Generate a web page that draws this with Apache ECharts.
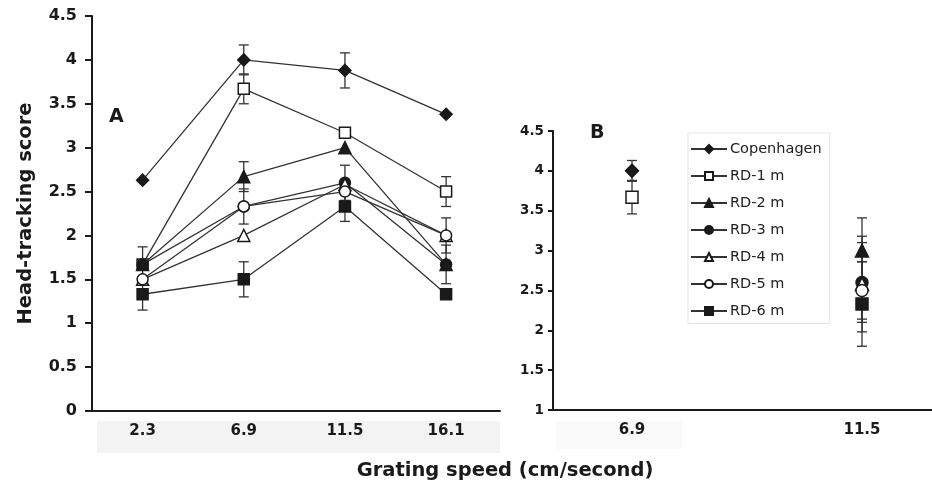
<!DOCTYPE html>
<html>
<head>
<meta charset="utf-8">
<script src="https://cdn.jsdelivr.net/npm/echarts@6/dist/echarts.min.js"></script>
<style>
  html, body { margin: 0; padding: 0; background: #fff; }
  #chart { width: 932px; height: 487px; }
</style>
</head>
<body>
<div id="chart"></div>
<script>
// grating speeds (cm/second)
const speedsA = [2.3, 6.9, 11.5, 16.1];
const speedsB = [6.9, 11.5];
const names = ['Copenhagen', 'RD-1 m', 'RD-2 m', 'RD-3 m', 'RD-4 m', 'RD-5 m', 'RD-6 m'];

// panel A means, one per speed
const copenhagenA = [2.63, 4.0, 3.88, 3.38];
const rd1A = [1.67, 3.67, 3.17, 2.5];
const rd2A = [1.67, 2.67, 3.0, 1.67];
const rd3A = [1.67, 2.33, 2.6, 1.67];
const rd4A = [1.5, 2.0, 2.58, 2.0];
const rd5A = [1.5, 2.33, 2.5, 2.0];
const rd6A = [1.33, 1.5, 2.33, 1.33];

// panel A error (+/-), 0 = no bar
const copenhagenErrA = [0, 0.17, 0.2, 0];
const rd1ErrA = [0, 0.17, 0, 0.17];
const rd2ErrA = [0, 0.17, 0, 0.22];
const rd3ErrA = [0.2, 0, 0.2, 0];
const rd4ErrA = [0, 0, 0, 0];
const rd5ErrA = [0, 0.2, 0, 0.2];
const rd6ErrA = [0.18, 0.2, 0.17, 0];

// panel B means at 6.9 and 11.5
const copenhagenB = [4.0, null];
const rd1B = [3.67, null];
const rd2B = [null, 3.0];
const rd3B = [null, 2.6];
const rd4B = [null, 2.58];
const rd5B = [null, 2.5];
const rd6B = [null, 2.33];

const copenhagenErrB = [0.13, 0];
const rd1ErrB = [0.21, 0];
const rd2ErrB = [0, 0.41];
const rd3ErrB = [0, 0.5];
const rd4ErrB = [0, 0.6];
const rd5ErrB = [0, 0.36];
const rd6ErrB = [0, 0.53];

const yTicksA = [0, 4.5, 0.5];
const yTicksB = [1, 4.5, 0.5];

var chart = echarts.init(document.getElementById('chart'));

const ink = '#1a1a1a';
const font = 'DejaVu Sans, sans-serif';
// marker look per series
const marks = [
  { symbol: 'diamond', size: 12, fill: ink },
  { symbol: 'rect', size: 11, fill: '#fff' },
  { symbol: 'triangle', size: 12, fill: ink },
  { symbol: 'circle', size: 11, fill: ink },
  { symbol: 'triangle', size: 12, fill: '#fff' },
  { symbol: 'circle', size: 11, fill: '#fff' },
  { symbol: 'rect', size: 11, fill: ink }
];
const valsA = [copenhagenA, rd1A, rd2A, rd3A, rd4A, rd5A, rd6A];
const errsA = [copenhagenErrA, rd1ErrA, rd2ErrA, rd3ErrA, rd4ErrA, rd5ErrA, rd6ErrA];
const valsB = [copenhagenB, rd1B, rd2B, rd3B, rd4B, rd5B, rd6B];
const errsB = [copenhagenErrB, rd1ErrB, rd2ErrB, rd3ErrB, rd4ErrB, rd5ErrB, rd6ErrB];

function errorData(xs, vals, errs) {
  let out = [];
  vals.forEach(function (v, i) {
    v.forEach(function (y, j) {
      if (y != null && errs[i][j] > 0) out.push([xs[j], y, errs[i][j]]);
    });
  });
  return out;
}

function renderErr(params, api) {
  const x = api.value(0), y = api.value(1), e = api.value(2);
  const hi = api.coord([x, y + e]);
  const lo = api.coord([x, y - e]);
  const w = 5;
  const st = { stroke: '#333', lineWidth: 1.3 };
  return {
    type: 'group',
    children: [
      { type: 'line', shape: { x1: hi[0], y1: hi[1], x2: lo[0], y2: lo[1] }, style: st },
      { type: 'line', shape: { x1: hi[0] - w, y1: hi[1], x2: hi[0] + w, y2: hi[1] }, style: st },
      { type: 'line', shape: { x1: lo[0] - w, y1: lo[1], x2: lo[0] + w, y2: lo[1] }, style: st }
    ]
  };
}

let series = [];
names.forEach(function (n, i) {
  const m = marks[i];
  series.push({
    name: n,
    type: 'line',
    xAxisIndex: 0,
    yAxisIndex: 0,
    z: 3,
    symbol: m.symbol,
    symbolSize: m.size,
    showAllSymbol: true,
    lineStyle: { color: '#333', width: 1.3 },
    itemStyle: { color: m.fill, borderColor: ink, borderWidth: 1.5, opacity: 1 },
    data: speedsA.map(function (s, j) { return [s, valsA[i][j]]; })
  });
});
names.forEach(function (n, i) {
  const m = marks[i];
  series.push({
    name: n,
    type: 'scatter',
    xAxisIndex: 1,
    yAxisIndex: 1,
    z: 3,
    symbol: m.symbol,
    symbolSize: m.size + 1,
    itemStyle: { color: m.fill, borderColor: ink, borderWidth: 1.5, opacity: 1 },
    data: speedsB.map(function (s, j) { return [s, valsB[i][j]]; }).filter(function (d) { return d[1] != null; })
  });
});
series.push({
  type: 'custom', xAxisIndex: 0, yAxisIndex: 0, z: 2, silent: true,
  renderItem: renderErr, data: errorData(speedsA, valsA, errsA)
});
series.push({
  type: 'custom', xAxisIndex: 1, yAxisIndex: 1, z: 2, silent: true,
  renderItem: renderErr, data: errorData(speedsB, valsB, errsB)
});

const axisLine = { show: true, onZero: false, lineStyle: { color: ink, width: 2 } };

const option = {
  backgroundColor: '#fff',
  animation: false,
  grid: [
    { left: 92, top: 16, width: 408, bottom: 76 },
    { left: 553, top: 131, right: 0, bottom: 77 }
  ],
  xAxis: [
    {
      type: 'value', gridIndex: 0, min: 0, max: 18.55,
      axisLine: axisLine, splitLine: { show: false }, axisTick: { show: false },
      axisLabel: {
        customValues: speedsA, margin: 13,
        color: ink, fontFamily: font, fontWeight: 'bold', fontSize: 15,
        formatter: function (v) { return v.toFixed(1); }
      }
    },
    {
      type: 'value', gridIndex: 1, min: 5.32, max: 12.9,
      axisLine: axisLine, splitLine: { show: false }, axisTick: { show: false },
      axisLabel: {
        customValues: speedsB, margin: 13,
        color: ink, fontFamily: font, fontWeight: 'bold', fontSize: 15,
        formatter: function (v) { return v.toFixed(1); }
      }
    }
  ],
  yAxis: [
    {
      type: 'value', gridIndex: 0, min: yTicksA[0], max: yTicksA[1], interval: yTicksA[2],
      name: 'Head-tracking score', nameLocation: 'middle', nameGap: 56,
      nameTextStyle: { color: ink, fontFamily: font, fontWeight: 'bold', fontSize: 19.5 },
      axisLine: axisLine, splitLine: { show: false },
      axisTick: { show: true, length: 7, lineStyle: { color: ink, width: 2 } },
      axisLabel: { margin: 15, color: ink, fontFamily: font, fontWeight: 'bold', fontSize: 16 }
    },
    {
      type: 'value', gridIndex: 1, min: yTicksB[0], max: yTicksB[1], interval: yTicksB[2],
      axisLine: axisLine, splitLine: { show: false },
      axisTick: { show: true, length: 5, lineStyle: { color: ink, width: 2 } },
      axisLabel: { margin: 9, color: ink, fontFamily: font, fontWeight: 'bold', fontSize: 13.5 }
    }
  ],
  legend: {
    data: names,
    orient: 'vertical',
    left: 688,
    top: 133,
    padding: [8.5, 8, 5, 2],
    itemGap: 12,
    itemWidth: 36,
    itemHeight: 10,
    borderColor: '#e4e4e4',
    borderWidth: 1,
    selectedMode: false,
    textStyle: { color: '#222', fontFamily: font, fontSize: 14.5, padding: [0, 0, 0, -2] }
  },
  graphic: [
    { type: 'rect', z: -1, shape: { x: 97, y: 421, width: 403, height: 32 }, style: { fill: '#f3f3f3' } },
    { type: 'rect', z: -1, shape: { x: 556, y: 421, width: 126, height: 28 }, style: { fill: '#f9f9f9' } },
    { type: 'text', left: 109, top: 108, style: { text: 'A', font: 'bold 19px ' + font, fill: ink } },
    { type: 'text', left: 590, top: 124, style: { text: 'B', font: 'bold 19px ' + font, fill: ink } },
    { type: 'text', x: 505, y: 471, style: { text: 'Grating speed (cm/second)', font: 'bold 19.5px ' + font, fill: ink, textAlign: 'center', textVerticalAlign: 'middle' } }
  ],
  series: series
};
chart.setOption(option);
</script>
</body>
</html>
